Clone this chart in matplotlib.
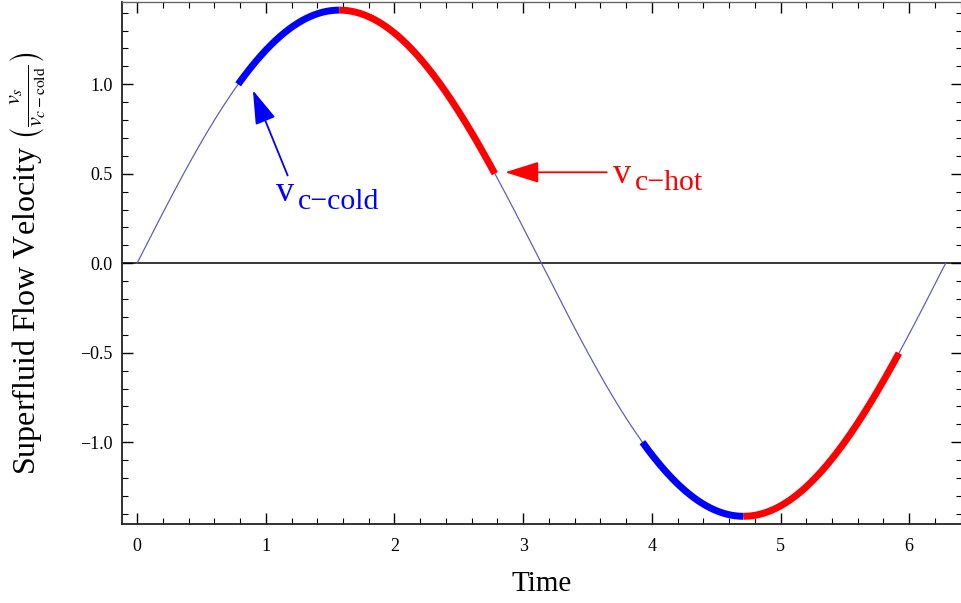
import numpy as np
import matplotlib.pyplot as plt
from matplotlib.ticker import MultipleLocator

plt.rcParams['font.family'] = ['Liberation Serif', 'DejaVu Serif']
plt.rcParams['mathtext.fontset'] = 'stix'

# Curve: v_s / v_c-cold = amplitude * sin(time), over one period
amplitude = 1.414
t_end = 6.283

# Highlighted stretches of the curve (time ranges)
cold_segments = [(0.785, 1.571), (3.927, 4.712)]
hot_segments = [(1.571, 2.78), (4.712, 5.92)]

y_ticks = [-1.0, -0.5, 0.0, 0.5, 1.0]
y_ticklabels = ['\u22121.0', '\u22120.5', '0.0', '0.5', '1.0']

t = np.linspace(0, t_end, 600)
v = amplitude * np.sin(t)

fig = plt.figure(figsize=(9.61, 6.03), dpi=100)
ax = fig.add_axes([0.127, 0.131, 0.874, 0.865])

ax.axhline(0, color='black', lw=1.1, zorder=1)
ax.plot(t, v, color='#6060b4', lw=0.9, zorder=2)

for segs, col in [(cold_segments, '#0000ff'), (hot_segments, '#ff0000')]:
    for a, b in segs:
        ts = np.linspace(a, b, 150)
        ax.plot(ts, amplitude * np.sin(ts), color=col, lw=5,
                solid_capstyle='butt', zorder=3)

# annotations
arrow_style = '-|>,head_length=1.05,head_width=0.33'
ax.annotate('', xy=(0.90, 0.966), xytext=(1.17, 0.49),
            arrowprops=dict(arrowstyle=arrow_style, mutation_scale=20,
                            color='#0000ff', lw=1.3, shrinkA=0, shrinkB=0))
ax.text(1.08, 0.345, 'v', color='#0000ff', fontsize=26, ha='left', va='baseline')
ax.text(1.25, 0.305, 'c\u2212cold', color='#0000ff', fontsize=21.5,
        ha='left', va='baseline')

ax.annotate('', xy=(2.86, 0.508), xytext=(3.65, 0.508),
            arrowprops=dict(arrowstyle=arrow_style, mutation_scale=20,
                            color='#ff0000', lw=1.3, shrinkA=0, shrinkB=0))
ax.text(3.70, 0.45, 'v', color='#ff0000', fontsize=26, ha='left', va='baseline')
ax.text(3.87, 0.41, 'c\u2212hot', color='#ff0000', fontsize=21.5,
        ha='left', va='baseline')

ax.set_xlim(-0.117, 6.41)
ax.set_ylim(-1.457, 1.457)

ax.xaxis.set_major_locator(MultipleLocator(1))
ax.xaxis.set_minor_locator(MultipleLocator(0.2))
ax.yaxis.set_minor_locator(MultipleLocator(0.1))
ax.set_yticks(y_ticks)
ax.set_yticklabels(y_ticklabels)

ax.tick_params(which='both', direction='in', top=True, right=True, labelsize=13)
ax.tick_params(which='major', length=8, width=1)
ax.tick_params(which='minor', length=4, width=0.8)
ax.tick_params(axis='x', pad=10)
ax.tick_params(axis='y', pad=7)

for s in ['left', 'bottom']:
    ax.spines[s].set_linewidth(1.3)
    ax.spines[s].set_color('#222222')
for s in ['top', 'right']:
    ax.spines[s].set_linewidth(1.0)
    ax.spines[s].set_color('#666666')

ax.set_xlabel('Time', fontsize=21)
ax.xaxis.set_label_coords(0.5, -0.091)
ax.set_ylabel(r'Superfluid Flow Velocity $\left(\frac{v_s}{v_{c-\mathrm{cold}}}\right)$',
              fontsize=23)
ax.yaxis.set_label_coords(-0.088, 0.5)

fig.savefig('out.png', dpi=100)
